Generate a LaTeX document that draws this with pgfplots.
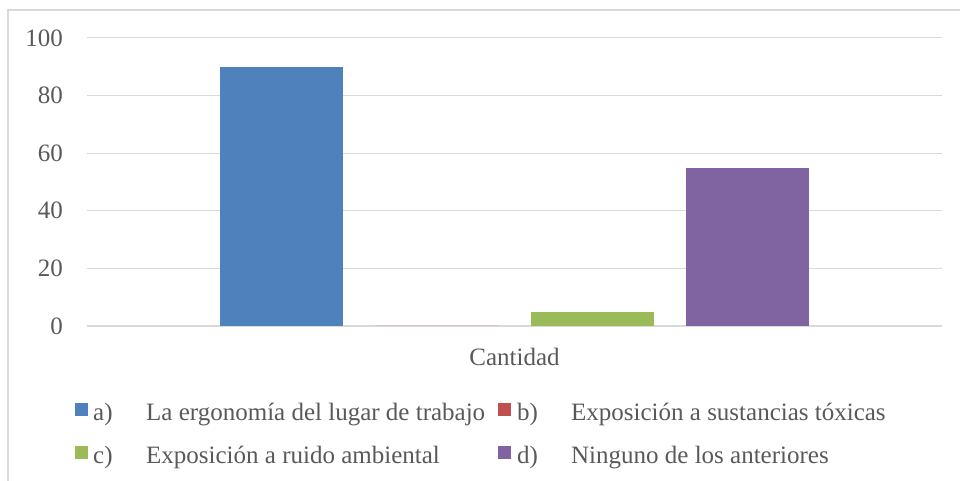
\documentclass[border=0pt]{standalone}
\usepackage{pgfplots}
\pgfplotsset{compat=1.18}
\usepackage{fontspec}
\setmainfont{Liberation Serif}
\definecolor{txt}{HTML}{595959}
\definecolor{gridc}{HTML}{D9D9D9}
\definecolor{cA}{HTML}{4F81BD}
\definecolor{cB}{HTML}{C0504D}
\definecolor{cC}{HTML}{9BBB59}
\definecolor{cD}{HTML}{8064A2}
\newcommand{\f}{\fontsize{25}{30}\selectfont}
\begin{document}
\begin{tikzpicture}[x=1pt,y=1pt]
\useasboundingbox (0,0) rectangle (961,481);
\draw[gridc, line width=1.5pt] (8,0) -- (8,471) -- (960,471);
\begin{axis}[
  at={(87pt,155pt)}, anchor=south west,
  scale only axis, width=855pt, height=288pt,
  xmin=-0.5, xmax=0.5, ymin=0, ymax=100,
  ybar=32.5pt, bar width=123pt,
  axis y line*=left, axis x line*=bottom,
  y axis line style={draw=none},
  x axis line style={gridc, line width=1.5pt, -},
  xtick={0}, xticklabels={Cantidad},
  ytick={0,20,40,60,80,100},
  ymajorgrids, major grid style={gridc, line width=1pt},
  major tick length=0pt,
  /pgf/number format/assume math mode=true,
  tick label style={font=\f, text=txt},
  yticklabel style={anchor=east, inner sep=0pt, xshift=-24pt},
  xticklabel style={anchor=base, inner sep=0pt, yshift=-40pt},
  legend columns=2,
  legend style={at={(-0.01404,-0.2535)}, anchor=north west, draw=none, fill=none,
    inner sep=0pt, column sep=0pt, row sep=22pt, font=\f, text=txt,
    nodes={inner sep=0pt, text height=21pt, text depth=0pt}},
  legend cell align=left,
  legend image code/.code={\fill[#1] (0pt,-6.5pt) rectangle (13pt,6.5pt);},
]
\addplot[fill=cA, draw=none] coordinates {(0,90)};
\addplot[fill=cB, draw=none] coordinates {(0,0)};
\addplot[fill=cC, draw=none] coordinates {(0,5)};
\addplot[fill=cD, draw=none] coordinates {(0,55)};
\legend{{\hspace{5pt}\makebox[405pt][l]{\makebox[53pt][l]{a)}La ergonomía del lugar de trabajo}},
        {\hspace{6pt}\makebox[54pt][l]{b)}Exposición a sustancias tóxicas},
        {\hspace{5pt}\makebox[405pt][l]{\makebox[53pt][l]{c)}Exposición a ruido ambiental}},
        {\hspace{6pt}\makebox[54pt][l]{d)}Ninguno de los anteriores}}
\end{axis}
\end{tikzpicture}
\end{document}
